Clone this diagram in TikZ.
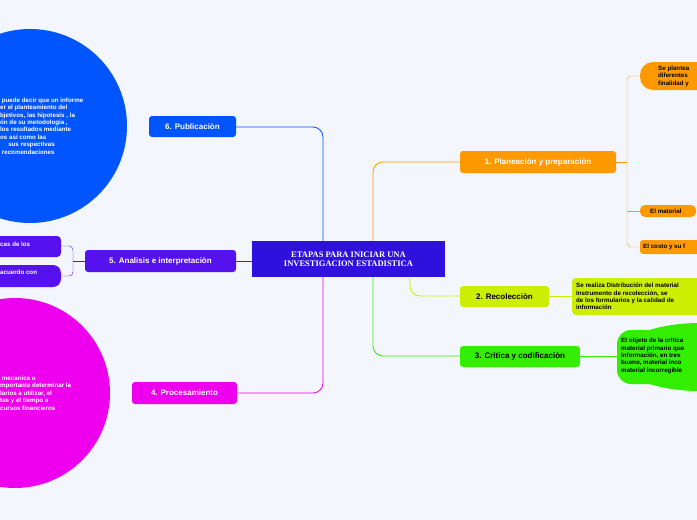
\documentclass[tikz,border=0pt]{standalone}
\usepackage{fontspec}
\setmainfont{Liberation Sans}
\newfontfamily\titlefont{Liberation Serif}
\usetikzlibrary{positioning}
\definecolor{bg}{HTML}{F3F6FD}
\definecolor{cmain}{HTML}{2F10DD}
\definecolor{cone}{HTML}{FF9900}
\definecolor{ctwo}{HTML}{CCEE00}
\definecolor{cthree}{HTML}{33EE00}
\definecolor{cfour}{HTML}{EE00EE}
\definecolor{cfive}{HTML}{5511EE}
\definecolor{csix}{HTML}{0055FF}
\begin{document}
\begin{tikzpicture}[
      x=1pt, y=-1pt,
      font=\bfseries,
      topic/.style={rectangle, rounded corners=3pt, inner sep=0pt, text=white, font=\fontsize{8}{9}\bfseries\selectfont},
      leaf/.style={rectangle, rounded corners=6pt, inner sep=0pt, align=left, font=\fontsize{6.2}{7.4}\bfseries\selectfont},
      link/.style={thick, rounded corners=10pt}
    ]
      \fill[bg] (0,0) rectangle (697,520);
      \clip (0,0) rectangle (697,520);

      % connectors first
      \draw[link, csix] (323,241) -- (323,127) -- (236,127);
      \draw[link, cfour] (323,277) -- (323,393) -- (236,393);
      \draw[link, cone] (373,241) -- (373,162) -- (460,162);
      \draw[link, cthree] (373,277) -- (373,356) -- (460,356);
      \draw[link, ctwo] (410,277) -- (410,296) -- (460,296);
      \draw[thick, cfive] (252,261) -- (236,261);
      \draw[cfive, rounded corners=4pt] (61,246) -- (73,246) -- (73,276) -- (61,276);
      \draw[cfive] (73,261) -- (85,261);
      \draw[cone] (616,162) -- (627,162);
      \draw[cone, rounded corners=4pt] (640,76) -- (627,76) -- (627,247) -- (640,247);
      \draw[cone] (627,211) -- (640,211);
      \draw[ctwo, thick] (549,296) -- (572,296);
      \draw[cthree, thick] (580,356) -- (617,356);

      % centre
      \node (main) [rectangle, fill=cmain, minimum width=193pt, minimum height=36pt, text=white, align=center,
        font=\titlefont\fontsize{8.5}{9.5}\bfseries\selectfont] at (348.5,259) {ETAPAS PARA INICIAR UNA\\INVESTIGACION ESTADISTICA};

      % branches
      \node (plan) [topic, fill=cone, minimum width=156pt, minimum height=22pt] at (538,162) {1. Planeaciòn y preparaciòn};
      \node (recol) [topic, fill=ctwo, text=black, minimum width=89pt, minimum height=21pt] at (504.5,296.5) {2. Recolecciòn};
      \node (critica) [topic, fill=cthree, text=black, minimum width=120pt, minimum height=21pt] at (520,356.5) {3. Critica y codificaciòn};
      \node (proc) [topic, fill=cfour, minimum width=105pt, minimum height=22pt] at (184.5,393) {4. Procesamiento};
      \node (anal) [topic, fill=cfive, minimum width=151pt, minimum height=22pt] at (160.5,261) {5. Analisis e interpretaciòn};
      \node (publ) [topic, fill=csix, minimum width=87pt, minimum height=21pt] at (192.5,126.5) {6. Publicaciòn};

      % leaves
      \fill[cone, rounded corners=13pt] (640,62) rectangle (720,90);
      \node (plana) [leaf, anchor=west] at (658,76) {Se plantea\\diferentes\\finalidad y};
      \fill[cone, rounded corners=5pt] (640,205) rectangle (696,217);
      \node (planb) [leaf, anchor=west] at (650,211) {El material};
      \fill[cone, rounded corners=3pt] (640,240) rectangle (720,254);
      \node (planc) [leaf, anchor=west] at (643,247) {El costo y su f};
      \fill[ctwo, rounded corners=4pt] (572,278) rectangle (720,315);
      \node (recola) [leaf, anchor=west] at (576,296.5) {Se realiza Distribución del material\\Instrumento de recolección, se\\de los formularios y la calidad de\\información};
      \fill[cthree] (617,357) ellipse (0pt and 0pt);
      \fill[cthree, rounded corners=14pt] (617,330) rectangle (740,384);
      \fill[cthree] (700,357) ellipse (83pt and 34pt);
      \node (criticaa) [leaf, anchor=west] at (621,356) {El objeto de la critica\\material primario que\\información, en tres\\bueno, material inco\\material incorregible};
      \fill[cfive, rounded corners=4pt] (-10,236) rectangle (61,257);
      \node (anala) [leaf, text=white, anchor=west] at (0,244) {cas de los};
      \fill[cfive, rounded corners=8pt] (-10,265) rectangle (61,287);
      \node (analb) [leaf, text=white, anchor=west] at (0,272) {acuerdo con};
      \fill[cfour] (15,393) circle (95pt);
      \node (proca) [leaf, text=white, anchor=west] at (0,393) {\ mecanica o\\mportante determinar la\\larios a utilizar, el\\tas y el tiempo a\\cursos financieros};
      \fill[csix] (30,126) circle (97pt);
      \node (publa) [leaf, text=white, anchor=west] at (0,126) {\ puede decir que un informe\\er el planteamiento del\\bjetivos, las hipotesis , la\\ón de su metodologia ,\\los resultados mediante\\os así como las\\\hspace{1.3em}sus respectivas\\\ recomendaciones};
\end{tikzpicture}
\end{document}
